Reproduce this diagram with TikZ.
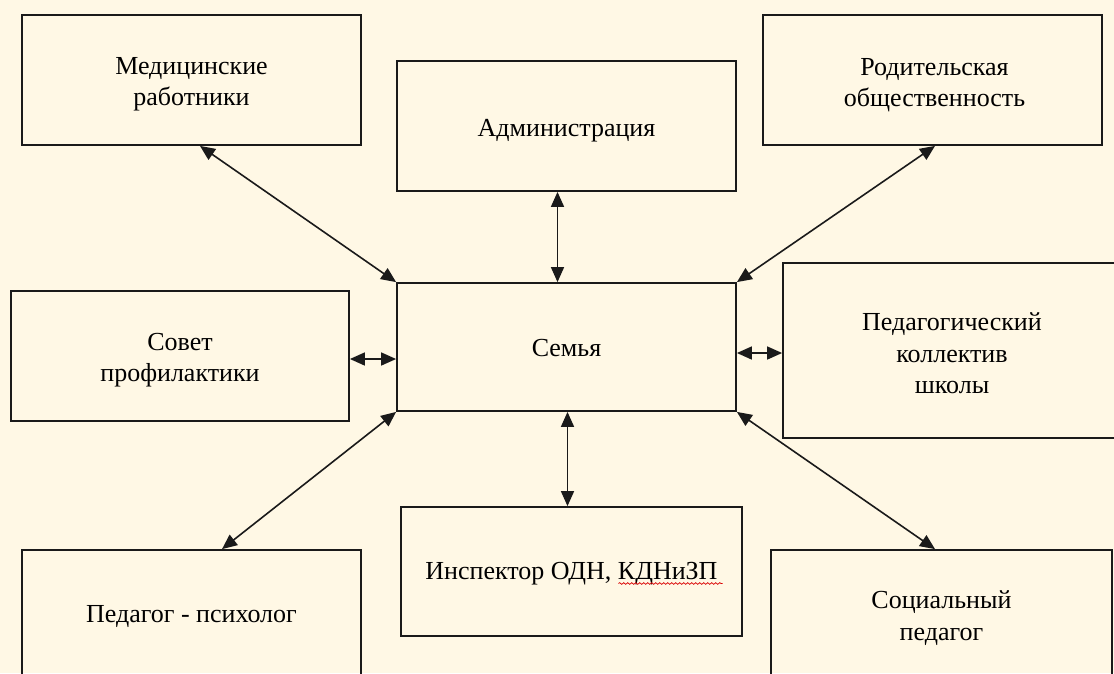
\documentclass[tikz,border=0pt]{standalone}
\usepackage{fontspec}
\setmainfont{Liberation Serif}
\usetikzlibrary{arrows.meta,decorations.pathmorphing}
\definecolor{bgcream}{HTML}{FFF8E5}
\definecolor{ink}{HTML}{1A1A1A}
\begin{document}
\begin{tikzpicture}[x=1pt,y=-1pt,
  box/.style={draw=ink,line width=1.8pt,rectangle,minimum width=339pt,minimum height=130pt,inner sep=0pt},
  txt/.style={inner sep=0pt,align=center,font=\fontsize{26}{31.5}\selectfont,text=black},
  link/.style={draw=ink,line width=1.6pt,{Triangle[length=15pt,width=13pt]}-{Triangle[length=15pt,width=13pt]}}]
\path[use as bounding box,fill=bgcream] (0,0) rectangle (1114,673);
\clip (0,0) rectangle (1114,673);
\node[box,label={[txt,yshift=-4.5pt]center:{Медицинские\\работники}}] (med) at (191.5,80) {};
\node[box,label={[txt,yshift=-4.5pt]center:{Администрация}}] (admin) at (566.5,126) {};
\node[box,label={[txt,yshift=-5pt,xshift=2pt]center:{Родительская\\общественность}}] (rod) at (932.5,80) {};
\node[box,minimum width=338pt,label={[txt,yshift=-4pt]center:{Совет\\профилактики}}] (sovet) at (180,356) {};
\node[box,minimum height=128pt,label={[txt,yshift=-1pt]center:{Семья}}] (sem) at (566.5,347) {};
\node[box,minimum width=338pt,minimum height=175pt,label={[txt,yshift=-3pt]center:{Педагогический\\коллектив\\школы}}] (ped) at (952,350.5) {};
\node[box,label={[txt,yshift=-1pt]center:{Педагог - психолог}}] (psy) at (191.5,615) {};
\node[box,minimum width=341pt,minimum height=129pt,label={[txt,yshift=-2pt]center:{Инспектор ОДН, КДНиЗП}}] (insp) at (571.5,571.5) {};
\node[box,minimum width=341pt,label={[txt,yshift=-3pt]center:{Социальный\\педагог}}] (soc) at (941.5,615) {};
% spell-check squiggle
\draw[red!85!black,line width=0.7pt,decorate,decoration={snake,segment length=4pt,amplitude=0.9pt}]
  ([xshift=47pt,yshift=-12pt]insp.center) -- ([xshift=151pt,yshift=-12pt]insp.center);
% connectors
\draw[link] ([xshift=8.5pt]med.south) -- (sem.north west);
\draw[link] ([xshift=2.5pt]rod.south) -- (sem.north east);
\draw[link] ([xshift=-9pt]admin.south) -- ([xshift=-9pt]admin.south |- sem.north);
\draw[link] ([xshift=1pt]sem.south) -- ([xshift=1pt]sem.south |- insp.north);
\draw[link] ([yshift=-3pt]sovet.east) -- ([yshift=-3pt]sovet.east -| sem.west);
\draw[link] ([yshift=-6pt]sem.east) -- ([yshift=-6pt]sem.east -| ped.west);
\draw[link] (sem.south west) -- ([xshift=30.5pt]psy.north);
\draw[link] (sem.south east) -- ([xshift=-6.5pt]soc.north);
\end{tikzpicture}
\end{document}
